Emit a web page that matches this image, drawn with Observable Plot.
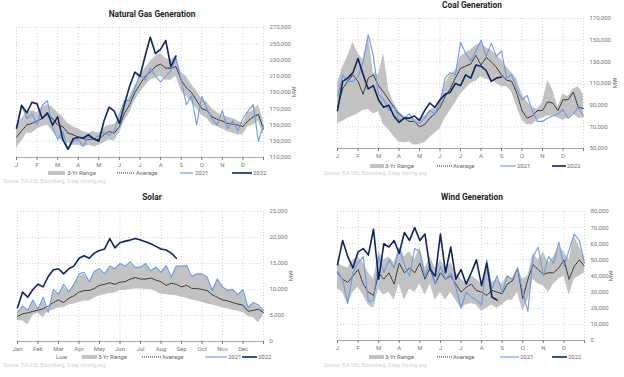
<!DOCTYPE html>
<html><head><meta charset="utf-8">
<script src="https://cdn.jsdelivr.net/npm/d3@7"></script>
<script src="https://cdn.jsdelivr.net/npm/@observablehq/plot@0.6"></script>
<style>
body{margin:0;background:#fff;font-family:Roboto,"Noto Sans",sans-serif;}
#page{position:relative;width:624px;height:377px;overflow:hidden;background:#fff;}
.title{position:absolute;font-weight:700;font-size:8.3px;color:#1e1e1e;transform:translate(-50%,-50%);white-space:nowrap;}
.mw{position:absolute;font-size:6px;color:#666;transform:translate(-50%,-50%) rotate(-90deg);white-space:nowrap;}
.lg{position:absolute;font-size:6px;color:#666;transform:translateY(-50%);white-space:nowrap;line-height:1;}
.sw{position:absolute;transform:translateY(-50%);}
.src{position:absolute;font-size:5px;color:#cfcfcf;white-space:nowrap;transform:translateY(-50%);}
.plotbox{position:absolute;}
</style>
</head><body><div id="page"></div>
<script>
// x positions: one value every quarter month, starting at 1 January (month index 0..12)
const STEP = 0.25;
const monthInitials = ["J","F","M","A","M","J","J","A","S","O","N","D"];
const monthAbbr = ["Jan","Feb","Mar","Apr","May","Jun","Jul","Aug","Sep","Oct","Nov","Dec"];

// values in thousand MW
const gasTicks = [110,130,150,170,190,210,230,250,270];
const gasLow  = [122,130,140,140,145,148,150,142,135,130,128,125,125,123,125,123,125,128,132,130,140,155,165,180,190,198,205,208,210,205,205,210,192,185,178,170,162,158,150,148,145,142,140,138,138,148,150,155,138];
const gasHigh = [150,158,165,168,165,172,175,172,165,160,152,148,145,142,140,142,140,146,150,150,158,175,185,198,210,220,228,235,238,232,230,235,215,210,200,192,182,178,170,165,162,160,158,155,152,165,168,175,155];
const gasAvg  = [135,143,150,152,155,158,163,158,150,148,140,138,135,133,132,133,132,138,142,140,148,165,175,190,200,210,215,222,225,220,220,222,205,196,190,180,170,168,160,157,155,152,151,150,148,155,160,163,145];
const gas2021 = [146,175,158,164,151,174,180,147,132,142,120,130,132,124,136,133,137,141,137,143,163,180,180,195,212,205,220,210,203,210,217,232,205,175,186,150,185,170,157,150,168,145,155,143,158,167,175,130,150];
const gas2022 = [146,174,165,178,176,158,165,150,160,132,120,133,135,134,138,133,130,155,172,167,152,176,198,215,210,235,258,238,243,254,222,235];

const coalTicks = [50,70,90,110,130,150,170];
const coalLow  = [73,75,78,80,82,85,86,82,84,72,67,61,56,55,56,53,54,55,60,64,68,78,85,92,100,105,110,112,116,114,113,110,107,107,102,88,76,72,72,76,78,80,80,78,76,78,82,78,78];
const coalHigh = [110,125,135,148,138,132,155,120,118,138,104,92,84,80,78,77,77,80,85,88,95,110,118,122,135,138,141,145,147,143,141,136,132,125,120,114,100,93,88,86,92,113,104,88,100,98,105,107,100];
const coalAvg  = [88,105,112,118,112,100,115,118,108,102,95,88,82,78,75,75,70,72,78,82,88,98,105,115,124,126,128,136,127,134,130,125,118,113,112,101,85,78,80,85,85,93,92,85,95,95,102,88,87];
const coal2021 = [98,118,112,112,116,130,155,135,100,95,85,90,76,78,82,75,73,78,85,82,92,115,120,118,148,138,131,140,150,135,147,135,140,115,118,105,95,99,85,75,75,78,80,82,86,78,82,88,80];
const coal2022 = [85,112,115,120,133,118,105,108,95,88,90,80,74,78,78,80,76,85,92,88,95,100,102,110,108,118,115,127,126,122,112,115,116];

const solarTicks = [0,5,10,15,20,25];
const solarLow  = [4.0,4.0,3.2,5.0,5.5,4.5,5.8,6.0,6.5,6.5,7.0,7.2,7.5,7.8,7.8,8.3,8.8,9.0,9.3,9.3,9.8,9.8,10.0,10.1,10.1,10.0,10.0,9.6,9.1,9.0,8.9,8.8,8.5,8.3,8.0,7.8,7.5,7.2,7.0,6.8,6.5,6.3,6.0,5.8,5.6,4.8,4.6,3.6,5.0];
const solarHigh = [5.5,6.6,6.0,7.6,6.2,8.0,6.0,9.5,9.0,10.5,9.5,10.8,12.5,13.0,11.5,13.2,13.8,13.0,14.2,14.0,14.8,14.5,15.0,14.2,14.3,14.8,13.6,14.2,13.3,14.4,12.4,14.3,14.3,14.4,12.5,13.0,13.0,12.4,10.0,12.0,10.5,9.8,10.0,9.0,9.8,6.6,7.3,6.8,6.0];
const solarAvg  = [4.8,5.3,5.5,5.8,6.0,6.3,6.8,7.5,8.0,7.5,8.3,8.8,9.5,9.8,9.8,10.2,10.8,11.0,11.3,11.0,11.4,11.5,12.0,12.3,12.0,12.0,12.2,11.8,11.5,10.8,11.2,11.0,10.5,10.8,10.2,10.2,10.0,9.8,9.0,8.5,8.0,7.8,7.5,7.2,7.0,5.8,6.0,6.2,5.6];
const solar2021 = [5.6,6.8,6.0,8.0,6.2,8.5,5.6,10.0,9.0,11.0,9.5,11.0,13.0,13.3,11.5,13.5,14.0,13.0,14.5,14.0,15.0,14.5,15.3,14.2,14.3,15.0,13.6,14.3,13.3,14.6,12.4,14.5,14.5,14.6,12.5,13.0,13.0,12.4,9.8,12.0,10.5,9.8,10.0,9.0,10.0,6.5,7.5,7.0,6.0];
const solar2022 = [6.5,9.5,8.5,10.0,11.0,10.5,12.5,13.8,14.0,13.0,14.0,14.5,16.0,16.5,16.0,17.0,17.5,17.8,19.8,18.0,19.0,19.3,19.5,19.8,19.5,19.2,18.8,18.3,17.8,17.6,17.0,16.0];

const windTicks = [0,10,20,30,40,50,60,70,80];
const windLow  = [32,30,22,30,33,28,22,20,32,28,30,25,35,25,32,30,35,28,35,25,30,25,30,25,20,22,23,22,18,20,22,20,22,25,25,30,18,25,38,35,34,30,35,38,40,28,38,40,42];
const windHigh = [48,46,45,50,52,48,42,38,55,50,52,48,58,52,55,50,58,45,52,45,50,45,48,42,38,36,40,38,35,45,36,38,35,40,38,45,38,40,54,50,55,48,52,58,55,50,65,58,52];
const windAvg  = [42,38,36,40,44,35,30,28,42,38,42,35,48,42,45,42,48,38,45,35,42,38,40,35,30,33,35,31,30,28,31,30,29,35,37,45,26,38,47,44,41,42,42,45,50,38,46,50,46];
const wind2021 = [43,38,23,42,48,52,24,25,52,42,50,45,57,47,40,57,55,40,48,35,46,38,42,33,20,30,27,25,22,50,32,40,30,40,38,45,30,18,52,58,40,52,48,61,46,56,66,62,48];
const wind2022 = [47,62,52,45,55,57,53,69,38,60,58,62,54,67,62,70,62,66,44,40,66,42,58,38,44,35,42,50,34,48,27,25];

const sourceText = "Source: EIA 930, Bloomberg, 5-day moving avg";
const legendNames = {range:"3-Yr Range", avg:"Average", y21:"2021", y22:"2022", low:"Low"};

const COLORS = {band:"#c2c2c2", avg:"#2a2a2a", y21:"#6b9ae8", y22:"#0e2461"};

const panels = [
  {title:"Natural Gas Generation", px:0, left:16, right:263, top:27, bottom:157, domain:[110,270], ticks:gasTicks, labels:monthInitials,
   low:gasLow, high:gasHigh, avg:gasAvg, y21:gas2021, y22:gas2022, tx:152, ty:14, mwx:293, ly:173, srcx:3, srcy:181,
   lg:{range:[48,65,67], avg:[117,135,136], y21:[180,193,195], y22:[232,252,253]}},
  {title:"Coal Generation", px:312, left:337, right:583, top:18, bottom:148, domain:[50,170], ticks:coalTicks, labels:monthInitials,
   low:coalLow, high:coalHigh, avg:coalAvg, y21:coal2021, y22:coal2022, tx:472, ty:5, mwx:614, ly:166, srcx:324, srcy:173,
   lg:{range:[370,384,385], avg:[437,452,453], y21:[500,516,517], y22:[552,566,567]}},
  {title:"Solar", px:0, left:17, right:263, top:211, bottom:341, domain:[0,25], ticks:solarTicks, labels:monthAbbr,
   low:solarLow, high:solarHigh, avg:solarAvg, y21:solar2021, y22:solar2022, tx:152, ty:197, mwx:290, ly:357, srcx:3, srcy:365,
   lg:{low:[56,56,56], range:[82,97,98], avg:[142,161,162], y21:[205,227,228], y22:[242,257,258]}},
  {title:"Wind Generation", px:312, left:337, right:584, top:211, bottom:340, domain:[0,80], ticks:windTicks, labels:monthInitials,
   low:windLow, high:windHigh, avg:windAvg, y21:wind2021, y22:wind2022, tx:472, ty:197, mwx:610, ly:357, srcx:324, srcy:365,
   lg:{range:[369,384,385], avg:[437,452,453], y21:[500,519,520], y22:[552,567,568]}}
];

const page = document.getElementById("page");
const fmt = d3.format(",");
function el(cls, x, y, text){
  const d = document.createElement("div");
  d.className = cls; d.style.left = x + "px"; d.style.top = y + "px";
  if (text != null) d.textContent = text;
  page.appendChild(d); return d;
}
function swatch(x0, x1, y, kind){
  const w = x1 - x0;
  const ns = "http://www.w3.org/2000/svg";
  const s = document.createElementNS(ns, "svg");
  s.setAttribute("width", w); s.setAttribute("height", 6);
  s.setAttribute("class","sw");
  s.style.position = "absolute"; s.style.left = x0 + "px"; s.style.top = y + "px";
  const ln = document.createElementNS(ns, "line");
  ln.setAttribute("x1", 0); ln.setAttribute("x2", w); ln.setAttribute("y1", 3); ln.setAttribute("y2", 3);
  if (kind === "range") { ln.setAttribute("stroke", COLORS.band); ln.setAttribute("stroke-width", 4); }
  if (kind === "avg") { ln.setAttribute("stroke", COLORS.avg); ln.setAttribute("stroke-width", 1); ln.setAttribute("stroke-dasharray","1,1"); }
  if (kind === "y21") { ln.setAttribute("stroke", "#8fb3ef"); ln.setAttribute("stroke-width", 1.5); }
  if (kind === "y22") { ln.setAttribute("stroke", "#3b4f86"); ln.setAttribute("stroke-width", 2); }
  s.appendChild(ln); page.appendChild(s);
}

for (const p of panels) {
  const toRows = arr => arr.map((v, i) => ({m: i * STEP, v}));
  const band = p.low.map((v, i) => ({m: i * STEP, low: v, high: p.high[i]}));
  const mt = 6, mb = 14;
  const chart = Plot.plot({
    width: 312,
    height: (p.bottom - p.top) + mt + mb,
    marginTop: mt, marginBottom: mb,
    marginLeft: p.left - p.px, marginRight: p.px + 312 - p.right,
    style: {fontFamily: "Roboto, sans-serif", fontSize: "6px", color: "#777", background: "transparent", overflow: "visible"},
    x: {domain: [0, 12]},
    y: {domain: p.domain},
    marks: [
      Plot.gridX(d3.range(0, 13), {stroke: "#d6d6d6", strokeOpacity: 1, strokeDasharray: "1,2"}),
      Plot.gridY(p.ticks, {stroke: "#d6d6d6", strokeOpacity: 1, strokeDasharray: "1,2"}),
      Plot.areaY(band, {x: "m", y1: "low", y2: "high", fill: COLORS.band}),
      Plot.lineY(toRows(p.avg), {x: "m", y: "v", stroke: COLORS.avg, strokeWidth: 1, strokeDasharray: "1,1"}),
      Plot.lineY(toRows(p.y21), {x: "m", y: "v", stroke: COLORS.y21, strokeWidth: 1.1}),
      Plot.lineY(toRows(p.y22), {x: "m", y: "v", stroke: COLORS.y22, strokeWidth: 1.6}),
      Plot.ruleY([p.domain[0]], {stroke: "#a8a8a8", strokeWidth: 1}),
      Plot.axisX({ticks: d3.range(0, 13), tickFormat: d => p.labels[d] ?? "", tickSize: 3, tickPadding: 2, label: null}),
      Plot.axisY({anchor: "right", ticks: p.ticks, tickFormat: d => fmt(d * 1000), tickSize: 0, tickPadding: 6, label: null})
    ]
  });
  const box = el("plotbox", p.px, p.top - mt);
  box.appendChild(chart);
  el("title", p.tx, p.ty, p.title);
  el("mw", p.mwx, (p.top + p.bottom) / 2, "MW");
  for (const k of Object.keys(p.lg)) {
    const [x0, x1, tx] = p.lg[k];
    if (k !== "low") swatch(x0, x1, p.ly, k);
    el("lg", tx, p.ly, legendNames[k]);
  }
  el("src", p.srcx, p.srcy, sourceText);
}
</script></body></html>
